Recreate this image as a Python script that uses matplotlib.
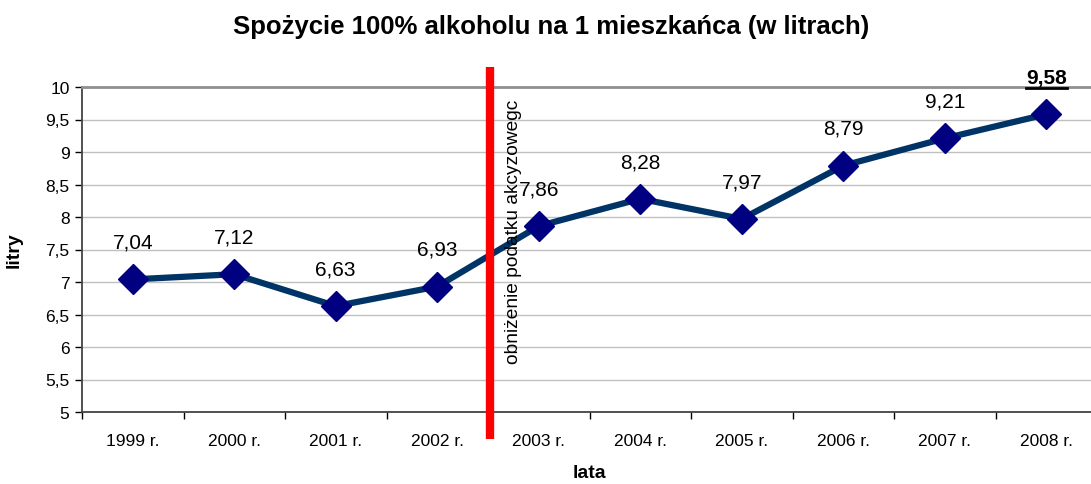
import matplotlib
matplotlib.use('Agg')
import matplotlib.pyplot as plt
from matplotlib.lines import Line2D

plt.rcParams['font.family'] = ['Liberation Sans', 'DejaVu Sans']

years = ['1999 r.', '2000 r.', '2001 r.', '2002 r.', '2003 r.',
         '2004 r.', '2005 r.', '2006 r.', '2007 r.', '2008 r.']
litry = [7.04, 7.12, 6.63, 6.93, 7.86, 8.28, 7.97, 8.79, 9.21, 9.58]
yticks = [5, 5.5, 6, 6.5, 7, 7.5, 8, 8.5, 9, 9.5, 10]
tax_cut_pos = 3.52  # miedzy 2002 a 2003

W, H = 1091, 485
fig = plt.figure(figsize=(W / 100, H / 100), dpi=100)
ax = fig.add_axes([82 / W, 1 - 413 / H, 1015 / W, 325 / H])

x = list(range(len(years)))
ax.plot(x, litry, color='#003366', lw=4.5, zorder=3,
        marker='D', ms=15, mfc='#000080', mec='#000080')

ax.set_xlim(-0.5, len(years) - 0.5)
ax.set_ylim(5, 10)
ax.set_yticks(yticks)
ax.set_yticklabels([('%g' % v).replace('.', ',') for v in yticks], fontsize=12.5)
ax.set_xticks(x)
ax.set_xticklabels(years, fontsize=12.5)
ax.tick_params(axis='x', length=0, pad=15)
ax.set_xticks([i - 0.5 for i in range(len(years) + 1)], minor=True)
ax.tick_params(axis='x', which='minor', length=5, width=1)
ax.tick_params(axis='y', length=5, width=1, pad=4)

ax.grid(axis='y', color='#c0c0c0', lw=1)
ax.set_axisbelow(True)
for s in ['left', 'bottom']:
    ax.spines[s].set_color('#444444')
    ax.spines[s].set_linewidth(1.3)
ax.spines['top'].set_color('#909090')
ax.spines['top'].set_linewidth(2)
ax.spines['right'].set_visible(False)

labels = []
for xi, v in zip(x, litry):
    last = xi == len(x) - 1
    t = ax.annotate(('%.2f' % v).replace('.', ','), (xi, v), xytext=(0, 20),
                    textcoords='offset points', ha='center', va='bottom',
                    fontsize=15, fontweight='bold' if last else 'normal')
    labels.append(t)

# czerwona linia - obnizenie podatku
ax.plot([tax_cut_pos, tax_cut_pos], [4.585, 10.31], color='#ff0000', lw=6,
        clip_on=False, zorder=4, solid_capstyle='butt')
ax.text(tax_cut_pos + 0.235, 9.82, 'obniżenie podatku akcyzowegc', rotation=90,
        ha='center', va='top', fontsize=13.8)

ax.set_ylabel('litry', fontsize=14, fontweight='bold', labelpad=16)
ax.set_xlabel('lata', fontsize=14, fontweight='bold', labelpad=12)
fig.text(551 / W, 1 - 27 / H, 'Spożycie 100% alkoholu na 1 mieszkańca (w litrach)',
         ha='center', va='center', fontsize=18.5, fontweight='bold')

# podkreslenie ostatniej wartosci
fig.canvas.draw()
bb = labels[-1].get_window_extent()
fig.add_artist(Line2D([bb.x0 / W, bb.x1 / W], [(bb.y0 - 1) / H, (bb.y0 - 1) / H],
                      transform=fig.transFigure, color='black', lw=2))

fig.savefig('out.png', dpi=100)
